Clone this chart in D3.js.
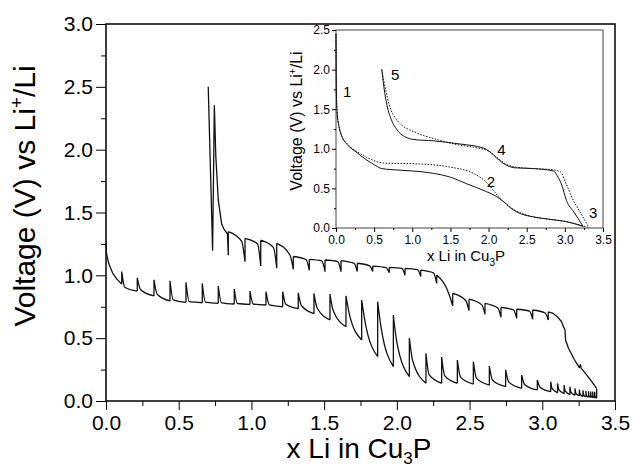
<!DOCTYPE html>
<html>
<head>
<meta charset="utf-8">
<script src="https://cdn.jsdelivr.net/npm/d3@7"></script>
<style>
  html, body { margin: 0; padding: 0; background: #fff; }
  svg { display: block; font-family: Arial, "Liberation Sans", Helvetica, sans-serif; }
</style>
</head>
<body>
<svg id="chart" width="634" height="468"></svg>
<script>
// --- MAIN PLOT DATA (GITT) ---
// discharge: start of the curve before the first rest
const dischargeLeadX = [0, 0.004, 0.02, 0.045, 0.075];
const dischargeLeadV = [1.26, 1.17, 1.09, 1.02, 0.97];
// each rest: x where current stops, voltage at end of pulse, relaxed voltage, voltage just after next pulse starts
const dischargeX = [0.108,0.215,0.330,0.440,0.550,0.662,0.772,0.882,0.990,1.100,
  1.215,1.322,1.430,1.540,1.650,1.758,1.868,1.976,2.086,2.200,
  2.308,2.416,2.526,2.636,2.748,2.858,2.966,3.058,3.105,3.150,
  3.190,3.225,3.255,3.280,3.300,3.318,3.333,3.347,3.360,3.374];
const dischargeLow = [0.93,0.875,0.836,0.796,0.785,0.782,0.777,0.772,0.769,0.764,
  0.75,0.735,0.695,0.645,0.591,0.485,0.353,0.273,0.193,0.141,
  0.141,0.141,0.135,0.127,0.114,0.101,0.088,0.074,0.065,0.058,
  0.05,0.045,0.04,0.035,0.032,0.03,0.028,0.026,0.024,0.022];
const dischargeRest = [1.03,0.98,0.965,0.957,0.945,0.936,0.915,0.891,0.875,0.87,
  0.87,0.862,0.857,0.851,0.836,0.804,0.79,0.684,0.50,0.38,
  0.35,0.326,0.313,0.278,0.247,0.207,0.167,0.154,0.14,0.127,
  0.114,0.10,0.09,0.085,0.08,0.078,0.076,0.075,0.074,0.10];
const dischargeKnee = [0.905,0.885,0.85,0.805,0.79,0.786,0.781,0.776,0.772,0.765,
  0.77,0.76,0.74,0.72,0.70,0.64,0.60,0.48,0.32,0.21,
  0.20,0.19,0.18,0.165,0.15,0.13,0.11,0.10,0.09,0.08,
  0.07,0.06,0.055,0.05,0.045,0.042,0.04,0.038,0.036];

// charge: steep start, then rests going left
const chargeLeadX = [3.374,3.33,3.29,3.268,3.262,3.255,3.22,3.18,3.16,3.156,3.13,3.10,3.07];
const chargeLeadV = [0.10,0.17,0.23,0.26,0.29,0.265,0.33,0.42,0.485,0.565,0.635,0.675,0.70];
const chargeX = [3.041,2.934,2.824,2.716,2.606,2.496,2.384,2.274,2.164,2.056,
  1.948,1.834,1.728,1.616,1.506,1.398,1.288,1.174,1.064,0.956,0.841];
const chargeTop = [0.71,0.724,0.73,0.745,0.777,0.81,0.857,1.003,1.042,1.056,
  1.064,1.074,1.096,1.117,1.122,1.127,1.15,1.255,1.28,1.295,1.347];
const chargeRest = [0.645,0.65,0.658,0.666,0.69,0.72,0.756,0.936,0.99,1.0,
  1.02,1.03,1.03,1.029,1.029,1.04,1.048,1.056,1.074,1.108,1.16];
const chargeKnee = [0.70,0.715,0.725,0.74,0.765,0.80,0.84,1.02,1.045,1.055,
  1.062,1.075,1.095,1.11,1.115,1.125,1.16,1.22,1.25,1.27];
// last pulses up to the 2.5 V cut-off
const chargeTailX = [0.841,0.835,0.81,0.795,0.772,0.755,0.745,0.733,0.703];
const chargeTailV = [1.16,1.33,1.37,1.41,1.6,1.95,2.35,1.2,2.5];

// --- INSET DATA (continuous cycling) ---
const inDis1X = [0,0.005,0.015,0.04,0.08,0.15,0.25,0.4,0.5,0.6,0.84,1.0,1.28,1.49,1.71,1.97,2.1,2.2,2.32,2.45,2.59,2.8,3.02,3.24];
const inDis1V = [2.45,1.75,1.45,1.28,1.15,1.05,0.97,0.86,0.8,0.75,0.73,0.72,0.69,0.645,0.56,0.46,0.40,0.33,0.23,0.17,0.14,0.11,0.08,0.02];
const inDis2X = [0,0.005,0.015,0.04,0.08,0.15,0.3,0.45,0.62,1.06,1.49,1.8,1.97,2.15,2.32,2.45,2.59,2.8,3.02,3.3];
const inDis2V = [2.45,1.75,1.45,1.28,1.15,1.06,0.95,0.87,0.82,0.81,0.77,0.69,0.58,0.375,0.24,0.18,0.14,0.11,0.08,0.01];
const inCha1X = [3.24,3.12,3.02,2.96,2.9,2.85,2.59,2.35,2.24,2.11,2.02,1.93,1.63,1.28,1.0,0.93,0.8,0.72,0.68,0.64,0.6];
const inCha1V = [0.02,0.2,0.35,0.54,0.66,0.72,0.75,0.76,0.79,0.88,0.96,1.01,1.06,1.10,1.12,1.14,1.24,1.38,1.5,1.7,2.0];
const inCha2X = [3.32,3.2,3.11,3.02,2.94,2.8,2.59,2.35,2.24,2.11,2.0,1.8,1.6,1.28,1.06,0.8,0.7,0.65,0.6];
const inCha2V = [0.0,0.2,0.35,0.55,0.71,0.74,0.75,0.77,0.80,0.89,0.97,1.02,1.05,1.13,1.2,1.36,1.55,1.75,2.0];
const inLabels = ["1","2","3","4","5"];
const inLabelX = [0.148,2.03,3.37,2.17,0.777];
const inLabelV = [1.72,0.585,0.19,0.99,1.93];

const majorTicks = [0,0.5,1,1.5,2,2.5,3,3.5];

// --- SETUP ---
const svg = d3.select("#chart");
const x = d3.scaleLinear().domain([0, 3.5]).range([106, 615]);
const y = d3.scaleLinear().domain([0, 3]).range([401, 24]);
const fmt = d3.format(".1f");
const zip = (a, b) => a.map((v, i) => [v, b[i]]);

function styleAxis(g, size) {
  g.select(".domain").remove();
  g.attr("font-family", null).attr("font-size", size);
  g.selectAll("line").attr("stroke", "#000").attr("stroke-width", 1.2);
  g.selectAll("text").attr("fill", "#000");
}

// main axes (minor first, then major with labels)
svg.append("g").attr("transform", "translate(106,0)")
  .call(d3.axisLeft(y).tickValues(d3.range(0.25, 3, 0.5)).tickSize(5).tickFormat(""))
  .call(g => styleAxis(g, 21));
svg.append("g").attr("transform", "translate(106,0)")
  .call(d3.axisLeft(y).tickValues(majorTicks.filter(d => d <= 3)).tickSize(10).tickPadding(3).tickFormat(fmt))
  .call(g => styleAxis(g, 21));
svg.append("g").attr("transform", "translate(0,401)")
  .call(d3.axisBottom(x).tickValues(d3.range(0.25, 3.5, 0.5)).tickSize(5).tickFormat(""))
  .call(g => styleAxis(g, 21));
svg.append("g").attr("transform", "translate(0,401)")
  .call(d3.axisBottom(x).tickValues(majorTicks).tickSize(9).tickPadding(5).tickFormat(fmt))
  .call(g => styleAxis(g, 21));

svg.append("rect").attr("x", 106).attr("y", 24).attr("width", 509).attr("height", 377)
  .attr("fill", "none").attr("stroke", "#000").attr("stroke-width", 1.5);

// --- GITT CURVES ---
const lineLin = d3.line().x(d => x(d[0])).y(d => y(d[1]));
const lineMono = d3.line().x(d => x(d[0])).y(d => y(d[1])).curve(d3.curveMonotoneX);
const f = 0.2; // part of each interval taken by the fast onset after a rest

function gittPath(xs, arrive, leave, knee) {
  let d = "";
  xs.forEach((xi, i) => {
    d += lineLin([[xi, arrive[i]], [xi, leave[i]]]);
    if (i < xs.length - 1) {
      const xn = xs[i + 1];
      const seg = [[xi, leave[i]], [xi + f * (xn - xi), knee[i]], [xn, arrive[i + 1]]];
      d += lineMono(seg.sort((a, b) => a[0] - b[0]));
    }
  });
  return d;
}

const dischargeD = lineLin(zip(dischargeLeadX, dischargeLeadV).concat([[dischargeX[0], dischargeLow[0]]]))
  + gittPath(dischargeX, dischargeLow, dischargeRest, dischargeKnee);
const chargeD = lineLin(zip(chargeLeadX, chargeLeadV).concat([[chargeX[0], chargeTop[0]]]))
  + gittPath(chargeX, chargeTop, chargeRest, chargeKnee)
  + lineLin(zip(chargeTailX, chargeTailV));

svg.append("path").attr("d", dischargeD).attr("fill", "none").attr("stroke", "#111")
  .attr("stroke-width", 1.3).attr("stroke-linejoin", "round");
svg.append("path").attr("d", chargeD).attr("fill", "none").attr("stroke", "#111")
  .attr("stroke-width", 1.3).attr("stroke-linejoin", "round");

// --- MAIN LABELS ---
const xl = svg.append("text").attr("x", 359).attr("y", 458).attr("text-anchor", "middle")
  .attr("font-size", 28).attr("fill", "#000");
xl.append("tspan").text("x Li in Cu");
xl.append("tspan").attr("font-size", 17).attr("dy", 6).text("3");
xl.append("tspan").attr("dy", -6).text("P");

const yl = svg.append("text").attr("transform", "translate(35,196) rotate(-90)")
  .attr("text-anchor", "middle").attr("font-size", 30).attr("fill", "#000");
yl.append("tspan").text("Voltage (V) vs Li");
yl.append("tspan").attr("font-size", 19).attr("dy", -12).text("+");
yl.append("tspan").attr("dy", 12).text("/Li");

// --- INSET ---
const xi = d3.scaleLinear().domain([0, 3.5]).range([336, 603]);
const yi = d3.scaleLinear().domain([0, 2.5]).range([228, 30]);

svg.append("rect").attr("x", 336).attr("y", 30).attr("width", 267).attr("height", 198)
  .attr("fill", "#fff").attr("stroke", "#444").attr("stroke-width", 1);

svg.append("g").attr("transform", "translate(336,0)")
  .call(d3.axisLeft(yi).tickValues(d3.range(0.25, 2.5, 0.5)).tickSize(2).tickFormat(""))
  .call(g => styleAxis(g, 12));
svg.append("g").attr("transform", "translate(336,0)")
  .call(d3.axisLeft(yi).tickValues([0, 0.5, 1, 1.5, 2, 2.5]).tickSize(4).tickPadding(2).tickFormat(fmt))
  .call(g => styleAxis(g, 12));
svg.append("g").attr("transform", "translate(0,228)")
  .call(d3.axisBottom(xi).tickValues(d3.range(0.25, 3.5, 0.5)).tickSize(2).tickFormat(""))
  .call(g => styleAxis(g, 12));
svg.append("g").attr("transform", "translate(0,228)")
  .call(d3.axisBottom(xi).tickValues(majorTicks).tickSize(4).tickPadding(3).tickFormat(fmt))
  .call(g => styleAxis(g, 12));
svg.selectAll("g line").attr("stroke-width", 1);

const lineIn = d3.line().x(d => xi(d[0])).y(d => yi(d[1])).curve(d3.curveMonotoneX);
const sortX = pts => pts.sort((a, b) => a[0] - b[0]);
[[inDis1X, inDis1V, null], [inCha1X, inCha1V, null], [inDis2X, inDis2V, "1.5,1.5"], [inCha2X, inCha2V, "1.5,1.5"]]
  .forEach(([xs, vs, dash]) => {
    svg.append("path").attr("d", lineIn(sortX(zip(xs, vs))))
      .attr("fill", "none").attr("stroke", "#111").attr("stroke-width", 1)
      .attr("stroke-dasharray", dash);
  });

svg.append("g").selectAll("text").data(inLabels).join("text")
  .attr("x", (d, i) => xi(inLabelX[i])).attr("y", (d, i) => yi(inLabelV[i]))
  .attr("dy", "0.35em").attr("text-anchor", "middle").attr("font-size", 15).attr("fill", "#000")
  .text(d => d);

const xil = svg.append("text").attr("x", 466).attr("y", 261).attr("text-anchor", "middle")
  .attr("font-size", 15).attr("fill", "#000");
xil.append("tspan").text("x Li in Cu");
xil.append("tspan").attr("font-size", 10).attr("dy", 5).text("3");
xil.append("tspan").attr("dy", -5).text("P");

const yil = svg.append("text").attr("transform", "translate(302,121) rotate(-90)")
  .attr("text-anchor", "middle").attr("font-size", 16).attr("fill", "#000");
yil.append("tspan").text("Voltage (V) vs Li");
yil.append("tspan").attr("font-size", 10).attr("dy", -6).text("+");
yil.append("tspan").attr("dy", 6).text("/Li");
</script>
</body>
</html>
